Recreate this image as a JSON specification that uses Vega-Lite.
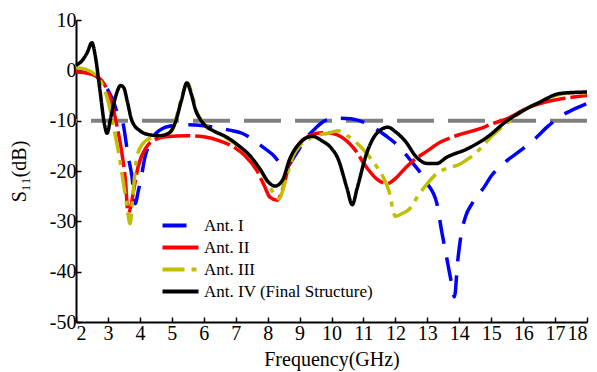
{
  "$schema": "https://vega.github.io/schema/vega-lite/v6.json",
  "width": 511,
  "height": 302,
  "autosize": {"type": "none"},
  "padding": {"left": 76, "top": 20, "right": 10, "bottom": 50},
  "background": "white",
  "config": {
    "view": {"stroke": null},
    "font": "Liberation Serif",
    "axis": {
      "labelFont": "Liberation Serif",
      "titleFont": "Liberation Serif",
      "labelFontSize": 20,
      "titleFontSize": 20,
      "titleFontWeight": "normal",
      "labelColor": "black",
      "titleColor": "black",
      "domainColor": "black",
      "domainWidth": 2,
      "tickColor": "black",
      "tickWidth": 1.5,
      "tickSize": -5,
      "grid": false
    },
    "legend": {
      "title": null, "orient": "none", "legendX": 96, "legendY": 197,
      "symbolType": "M-3,0H3", "symbolSize": 144, "symbolStrokeWidth": 4,
      "labelFont": "Liberation Serif", "labelFontSize": 17, "labelColor": "black",
      "labelOffset": 15, "rowPadding": 4, "labelLimit": 400
    }
  },
  "layer": [
    {
      "data": {"values": [{"level": -10}]},
      "mark": {"type": "rule", "color": "#808080", "strokeWidth": 4, "strokeDash": [37, 14]},
      "encoding": {
        "y": {"field": "level", "type": "quantitative", "scale": {"domain": [-50, 10], "nice": false}}
      }
    },
    {
      "data": {
        "values": [
          {"series": "Ant. I", "f": 2.0, "s11": -0.3},
          {"series": "Ant. I", "f": 2.4, "s11": -0.5},
          {"series": "Ant. I", "f": 2.7, "s11": -1.5},
          {"series": "Ant. I", "f": 2.9, "s11": -3},
          {"series": "Ant. I", "f": 3.05, "s11": -4.5},
          {"series": "Ant. I", "f": 3.16, "s11": -6},
          {"series": "Ant. I", "f": 3.3, "s11": -8.5},
          {"series": "Ant. I", "f": 3.47, "s11": -10.5},
          {"series": "Ant. I", "f": 3.63, "s11": -17},
          {"series": "Ant. I", "f": 3.75, "s11": -21},
          {"series": "Ant. I", "f": 3.85, "s11": -26.5},
          {"series": "Ant. I", "f": 3.95, "s11": -24},
          {"series": "Ant. I", "f": 4.05, "s11": -21},
          {"series": "Ant. I", "f": 4.15, "s11": -17.5},
          {"series": "Ant. I", "f": 4.3, "s11": -14.6},
          {"series": "Ant. I", "f": 4.6, "s11": -12},
          {"series": "Ant. I", "f": 5.0, "s11": -11},
          {"series": "Ant. I", "f": 5.5, "s11": -10.8},
          {"series": "Ant. I", "f": 6.0, "s11": -11},
          {"series": "Ant. I", "f": 6.5, "s11": -11.5},
          {"series": "Ant. I", "f": 6.9, "s11": -12},
          {"series": "Ant. I", "f": 7.2, "s11": -12.5},
          {"series": "Ant. I", "f": 7.5, "s11": -13.6},
          {"series": "Ant. I", "f": 7.8, "s11": -15},
          {"series": "Ant. I", "f": 8.2, "s11": -17},
          {"series": "Ant. I", "f": 8.55, "s11": -19.5},
          {"series": "Ant. I", "f": 8.8, "s11": -17.5},
          {"series": "Ant. I", "f": 9.0, "s11": -15.5},
          {"series": "Ant. I", "f": 9.23, "s11": -13.3},
          {"series": "Ant. I", "f": 9.5, "s11": -11.5},
          {"series": "Ant. I", "f": 9.8, "s11": -10},
          {"series": "Ant. I", "f": 10.2, "s11": -9.5},
          {"series": "Ant. I", "f": 10.6, "s11": -9.6},
          {"series": "Ant. I", "f": 11.0, "s11": -10.3},
          {"series": "Ant. I", "f": 11.3, "s11": -11.3},
          {"series": "Ant. I", "f": 11.7, "s11": -13},
          {"series": "Ant. I", "f": 12.0, "s11": -14.5},
          {"series": "Ant. I", "f": 12.3, "s11": -16.5},
          {"series": "Ant. I", "f": 12.55, "s11": -18.5},
          {"series": "Ant. I", "f": 12.8, "s11": -20.5},
          {"series": "Ant. I", "f": 13.0, "s11": -22.5},
          {"series": "Ant. I", "f": 13.3, "s11": -26.5},
          {"series": "Ant. I", "f": 13.45, "s11": -32},
          {"series": "Ant. I", "f": 13.6, "s11": -37},
          {"series": "Ant. I", "f": 13.75, "s11": -42},
          {"series": "Ant. I", "f": 13.85, "s11": -45},
          {"series": "Ant. I", "f": 13.95, "s11": -38},
          {"series": "Ant. I", "f": 14.05, "s11": -33},
          {"series": "Ant. I", "f": 14.2, "s11": -29},
          {"series": "Ant. I", "f": 14.4, "s11": -26.5},
          {"series": "Ant. I", "f": 14.8, "s11": -23},
          {"series": "Ant. I", "f": 15.0, "s11": -21},
          {"series": "Ant. I", "f": 15.3, "s11": -19},
          {"series": "Ant. I", "f": 15.9, "s11": -16},
          {"series": "Ant. I", "f": 16.3, "s11": -14},
          {"series": "Ant. I", "f": 16.8, "s11": -11},
          {"series": "Ant. I", "f": 17.2, "s11": -9},
          {"series": "Ant. I", "f": 17.5, "s11": -8},
          {"series": "Ant. I", "f": 18.0, "s11": -6.6},

          {"series": "Ant. II", "f": 2.0, "s11": -0.3},
          {"series": "Ant. II", "f": 2.3, "s11": -0.5},
          {"series": "Ant. II", "f": 2.6, "s11": -1.0},
          {"series": "Ant. II", "f": 2.8, "s11": -2},
          {"series": "Ant. II", "f": 2.95, "s11": -3.5},
          {"series": "Ant. II", "f": 3.1, "s11": -6},
          {"series": "Ant. II", "f": 3.28, "s11": -11},
          {"series": "Ant. II", "f": 3.45, "s11": -17},
          {"series": "Ant. II", "f": 3.55, "s11": -22},
          {"series": "Ant. II", "f": 3.63, "s11": -28.5},
          {"series": "Ant. II", "f": 3.72, "s11": -27},
          {"series": "Ant. II", "f": 3.8, "s11": -24},
          {"series": "Ant. II", "f": 3.95, "s11": -19},
          {"series": "Ant. II", "f": 4.2, "s11": -15.3},
          {"series": "Ant. II", "f": 4.4, "s11": -14},
          {"series": "Ant. II", "f": 4.8, "s11": -13.2},
          {"series": "Ant. II", "f": 5.5, "s11": -13},
          {"series": "Ant. II", "f": 6.0, "s11": -13.2},
          {"series": "Ant. II", "f": 6.5, "s11": -14},
          {"series": "Ant. II", "f": 7.0, "s11": -15.5},
          {"series": "Ant. II", "f": 7.3, "s11": -17},
          {"series": "Ant. II", "f": 7.67, "s11": -20},
          {"series": "Ant. II", "f": 7.9, "s11": -23},
          {"series": "Ant. II", "f": 8.07, "s11": -25.2},
          {"series": "Ant. II", "f": 8.3, "s11": -25.8},
          {"series": "Ant. II", "f": 8.5, "s11": -23},
          {"series": "Ant. II", "f": 8.7, "s11": -18},
          {"series": "Ant. II", "f": 9.0, "s11": -14.5},
          {"series": "Ant. II", "f": 9.3, "s11": -13},
          {"series": "Ant. II", "f": 9.7, "s11": -12.4},
          {"series": "Ant. II", "f": 10.0, "s11": -12.5},
          {"series": "Ant. II", "f": 10.3, "s11": -13.2},
          {"series": "Ant. II", "f": 10.7, "s11": -15.5},
          {"series": "Ant. II", "f": 11.1, "s11": -19.3},
          {"series": "Ant. II", "f": 11.4, "s11": -21.5},
          {"series": "Ant. II", "f": 11.75, "s11": -22.5},
          {"series": "Ant. II", "f": 12.0, "s11": -21.5},
          {"series": "Ant. II", "f": 12.3, "s11": -19.5},
          {"series": "Ant. II", "f": 12.55, "s11": -18},
          {"series": "Ant. II", "f": 13.0, "s11": -16},
          {"series": "Ant. II", "f": 13.4, "s11": -14.3},
          {"series": "Ant. II", "f": 13.9, "s11": -13},
          {"series": "Ant. II", "f": 14.65, "s11": -11.6},
          {"series": "Ant. II", "f": 15.0, "s11": -10.7},
          {"series": "Ant. II", "f": 15.5, "s11": -9.6},
          {"series": "Ant. II", "f": 16.2, "s11": -7.3},
          {"series": "Ant. II", "f": 16.7, "s11": -6.3},
          {"series": "Ant. II", "f": 17.25, "s11": -5.6},
          {"series": "Ant. II", "f": 18.0, "s11": -5},

          {"series": "Ant. III", "f": 2.0, "s11": 0.5},
          {"series": "Ant. III", "f": 2.3, "s11": 0.2},
          {"series": "Ant. III", "f": 2.6, "s11": -0.8},
          {"series": "Ant. III", "f": 2.8, "s11": -2.5},
          {"series": "Ant. III", "f": 3.0, "s11": -6},
          {"series": "Ant. III", "f": 3.2, "s11": -12},
          {"series": "Ant. III", "f": 3.35, "s11": -17},
          {"series": "Ant. III", "f": 3.5, "s11": -23},
          {"series": "Ant. III", "f": 3.6, "s11": -27},
          {"series": "Ant. III", "f": 3.69, "s11": -30.5},
          {"series": "Ant. III", "f": 3.78, "s11": -25},
          {"series": "Ant. III", "f": 3.9, "s11": -17.3},
          {"series": "Ant. III", "f": 4.1, "s11": -14.5},
          {"series": "Ant. III", "f": 4.4, "s11": -13.3},
          {"series": "Ant. III", "f": 4.7, "s11": -13},
          {"series": "Ant. III", "f": 5.0, "s11": -12},
          {"series": "Ant. III", "f": 5.2, "s11": -8},
          {"series": "Ant. III", "f": 5.35, "s11": -4.5},
          {"series": "Ant. III", "f": 5.5, "s11": -2.5},
          {"series": "Ant. III", "f": 5.62, "s11": -4.5},
          {"series": "Ant. III", "f": 5.8, "s11": -8.5},
          {"series": "Ant. III", "f": 6.0, "s11": -10.5},
          {"series": "Ant. III", "f": 6.3, "s11": -12},
          {"series": "Ant. III", "f": 6.8, "s11": -13.8},
          {"series": "Ant. III", "f": 7.4, "s11": -16.8},
          {"series": "Ant. III", "f": 7.8, "s11": -20},
          {"series": "Ant. III", "f": 8.1, "s11": -23.5},
          {"series": "Ant. III", "f": 8.35, "s11": -25.5},
          {"series": "Ant. III", "f": 8.6, "s11": -21},
          {"series": "Ant. III", "f": 8.8, "s11": -17},
          {"series": "Ant. III", "f": 9.0, "s11": -15},
          {"series": "Ant. III", "f": 9.2, "s11": -14},
          {"series": "Ant. III", "f": 9.5, "s11": -13},
          {"series": "Ant. III", "f": 9.9, "s11": -12.5},
          {"series": "Ant. III", "f": 10.2, "s11": -12},
          {"series": "Ant. III", "f": 10.5, "s11": -13},
          {"series": "Ant. III", "f": 10.8, "s11": -14.5},
          {"series": "Ant. III", "f": 11.1, "s11": -16.5},
          {"series": "Ant. III", "f": 11.4, "s11": -19},
          {"series": "Ant. III", "f": 11.6, "s11": -21},
          {"series": "Ant. III", "f": 11.8, "s11": -24},
          {"series": "Ant. III", "f": 12.0, "s11": -29},
          {"series": "Ant. III", "f": 12.2, "s11": -28.5},
          {"series": "Ant. III", "f": 12.45, "s11": -27.5},
          {"series": "Ant. III", "f": 12.7, "s11": -25},
          {"series": "Ant. III", "f": 13.0, "s11": -22.5},
          {"series": "Ant. III", "f": 13.3, "s11": -20.5},
          {"series": "Ant. III", "f": 13.6, "s11": -19.5},
          {"series": "Ant. III", "f": 14.0, "s11": -18.7},
          {"series": "Ant. III", "f": 14.3, "s11": -17.5},
          {"series": "Ant. III", "f": 14.7, "s11": -15.3},
          {"series": "Ant. III", "f": 14.95, "s11": -13.5},
          {"series": "Ant. III", "f": 15.3, "s11": -11.5},
          {"series": "Ant. III", "f": 15.6, "s11": -10},
          {"series": "Ant. III", "f": 16.0, "s11": -8},
          {"series": "Ant. III", "f": 16.5, "s11": -6.3},
          {"series": "Ant. III", "f": 17.0, "s11": -5},
          {"series": "Ant. III", "f": 17.5, "s11": -4.5},
          {"series": "Ant. III", "f": 18.0, "s11": -4.5},

          {"series": "Ant. IV (Final Structure)", "f": 2.0, "s11": 1.0},
          {"series": "Ant. IV (Final Structure)", "f": 2.2, "s11": 2.0},
          {"series": "Ant. IV (Final Structure)", "f": 2.35, "s11": 3.5},
          {"series": "Ant. IV (Final Structure)", "f": 2.5, "s11": 5.5},
          {"series": "Ant. IV (Final Structure)", "f": 2.6, "s11": 3.0},
          {"series": "Ant. IV (Final Structure)", "f": 2.75, "s11": -4},
          {"series": "Ant. IV (Final Structure)", "f": 2.9, "s11": -11},
          {"series": "Ant. IV (Final Structure)", "f": 2.97, "s11": -12.5},
          {"series": "Ant. IV (Final Structure)", "f": 3.1, "s11": -9},
          {"series": "Ant. IV (Final Structure)", "f": 3.25, "s11": -5},
          {"series": "Ant. IV (Final Structure)", "f": 3.4, "s11": -3},
          {"series": "Ant. IV (Final Structure)", "f": 3.5, "s11": -3.5},
          {"series": "Ant. IV (Final Structure)", "f": 3.6, "s11": -6},
          {"series": "Ant. IV (Final Structure)", "f": 3.75, "s11": -10},
          {"series": "Ant. IV (Final Structure)", "f": 4.0, "s11": -12},
          {"series": "Ant. IV (Final Structure)", "f": 4.3, "s11": -12.8},
          {"series": "Ant. IV (Final Structure)", "f": 4.6, "s11": -13},
          {"series": "Ant. IV (Final Structure)", "f": 4.9, "s11": -12.5},
          {"series": "Ant. IV (Final Structure)", "f": 5.1, "s11": -10.5},
          {"series": "Ant. IV (Final Structure)", "f": 5.3, "s11": -6},
          {"series": "Ant. IV (Final Structure)", "f": 5.47, "s11": -2.5},
          {"series": "Ant. IV (Final Structure)", "f": 5.6, "s11": -4.5},
          {"series": "Ant. IV (Final Structure)", "f": 5.75, "s11": -8},
          {"series": "Ant. IV (Final Structure)", "f": 5.9, "s11": -9.8},
          {"series": "Ant. IV (Final Structure)", "f": 6.1, "s11": -11.3},
          {"series": "Ant. IV (Final Structure)", "f": 6.3, "s11": -12},
          {"series": "Ant. IV (Final Structure)", "f": 6.8, "s11": -13.6},
          {"series": "Ant. IV (Final Structure)", "f": 7.1, "s11": -15},
          {"series": "Ant. IV (Final Structure)", "f": 7.45, "s11": -17},
          {"series": "Ant. IV (Final Structure)", "f": 7.8, "s11": -20},
          {"series": "Ant. IV (Final Structure)", "f": 8.0, "s11": -22},
          {"series": "Ant. IV (Final Structure)", "f": 8.23, "s11": -23},
          {"series": "Ant. IV (Final Structure)", "f": 8.45, "s11": -22},
          {"series": "Ant. IV (Final Structure)", "f": 8.7, "s11": -17.5},
          {"series": "Ant. IV (Final Structure)", "f": 9.0, "s11": -14.5},
          {"series": "Ant. IV (Final Structure)", "f": 9.4, "s11": -13.1},
          {"series": "Ant. IV (Final Structure)", "f": 9.7, "s11": -14},
          {"series": "Ant. IV (Final Structure)", "f": 10.0, "s11": -15.5},
          {"series": "Ant. IV (Final Structure)", "f": 10.2, "s11": -17.5},
          {"series": "Ant. IV (Final Structure)", "f": 10.48, "s11": -23.3},
          {"series": "Ant. IV (Final Structure)", "f": 10.65, "s11": -26.7},
          {"series": "Ant. IV (Final Structure)", "f": 10.8, "s11": -23.5},
          {"series": "Ant. IV (Final Structure)", "f": 11.1, "s11": -16.5},
          {"series": "Ant. IV (Final Structure)", "f": 11.42, "s11": -12.5},
          {"series": "Ant. IV (Final Structure)", "f": 11.77, "s11": -11.3},
          {"series": "Ant. IV (Final Structure)", "f": 12.0, "s11": -12.2},
          {"series": "Ant. IV (Final Structure)", "f": 12.3, "s11": -14},
          {"series": "Ant. IV (Final Structure)", "f": 12.67, "s11": -17.3},
          {"series": "Ant. IV (Final Structure)", "f": 13.0, "s11": -18.5},
          {"series": "Ant. IV (Final Structure)", "f": 13.3, "s11": -18.5},
          {"series": "Ant. IV (Final Structure)", "f": 13.6, "s11": -17.3},
          {"series": "Ant. IV (Final Structure)", "f": 14.25, "s11": -15.6},
          {"series": "Ant. IV (Final Structure)", "f": 14.87, "s11": -13.3},
          {"series": "Ant. IV (Final Structure)", "f": 15.5, "s11": -10},
          {"series": "Ant. IV (Final Structure)", "f": 16.0, "s11": -8},
          {"series": "Ant. IV (Final Structure)", "f": 16.53, "s11": -6.3},
          {"series": "Ant. IV (Final Structure)", "f": 17.15, "s11": -4.6},
          {"series": "Ant. IV (Final Structure)", "f": 18.0, "s11": -4.3}
        ]
      },
      "mark": {"type": "line", "strokeWidth": 3.5, "interpolate": "monotone"},
      "encoding": {
        "x": {
          "field": "f", "type": "quantitative",
          "scale": {"domain": [2, 18], "nice": false},
          "axis": {"title": "Frequency(GHz)", "values": [2,3,4,5,6,7,8,9,10,11,12,13,14,15,16,17,18], "labelPadding": 6, "titleY": 27}
        },
        "y": {
          "field": "s11", "type": "quantitative",
          "scale": {"domain": [-50, 10], "nice": false},
          "axis": {"title": "S₁₁(dB)", "values": [-50,-40,-30,-20,-10,0,10], "labelExpr": "'' + datum.value", "labelPadding": 5, "titleX": -47}
        },
        "color": {
          "field": "series", "type": "nominal",
          "scale": {"domain": ["Ant. I", "Ant. II", "Ant. III", "Ant. IV (Final Structure)"], "range": ["#0000ff", "#ff0000", "#bfbf00", "#000000"]}
        },
        "strokeDash": {
          "field": "series", "type": "nominal",
          "scale": {"domain": ["Ant. I", "Ant. II", "Ant. III", "Ant. IV (Final Structure)"], "range": [[24, 14], [36, 5], [22, 7, 5, 7], [1, 0]]}
        }
      }
    }
  ]
}
